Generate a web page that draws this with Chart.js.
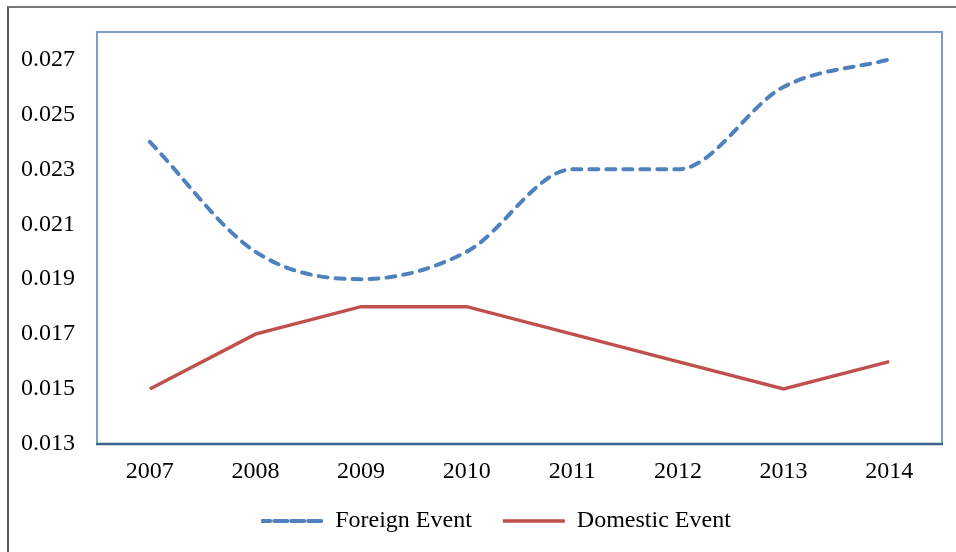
<!DOCTYPE html>
<html>
<head>
<meta charset="utf-8">
<script src="https://cdn.jsdelivr.net/npm/chart.js@4/dist/chart.umd.min.js"></script>
<style>
  html, body { margin: 0; padding: 0; background: #ffffff; }
  #wrap { position: relative; width: 956px; height: 552px; overflow: hidden; }
  #frame { position: absolute; left: 7px; top: 6px; width: 1000px; height: 1000px;
           border-top: 2px solid #7a7a7a; border-left: 2px solid #5a5a5a; box-sizing: border-box; }
  canvas { position: absolute; left: 0; top: 0; }
</style>
</head>
<body>
<div id="wrap">
  <div id="frame"></div>
  <canvas id="c" width="956" height="552"></canvas>
</div>
<script>
const categories = ['2007', '2008', '2009', '2010', '2011', '2012', '2013', '2014'];
const foreignEvent = [0.024, 0.020, 0.019, 0.020, 0.023, 0.023, 0.026, 0.027];
const domesticEvent = [0.015, 0.017, 0.018, 0.018, 0.017, 0.016, 0.015, 0.016];
const yTicks = [0.013, 0.015, 0.017, 0.019, 0.021, 0.023, 0.025, 0.027];

const plotFrame = {
  id: 'plotFrame',
  afterLayout(chart) {
    const lg = chart.legend;
    if (lg) {
      lg.left += 25; lg.right += 25;
      lg.top -= 9; lg.bottom -= 9;
    }
  },
  afterDatasetsDraw(chart) {
    const a = chart.chartArea, ctx = chart.ctx;
    ctx.save();
    ctx.strokeStyle = '#7f9cc4';
    ctx.lineWidth = 2;
    ctx.beginPath();
    ctx.moveTo(a.left, a.bottom);
    ctx.lineTo(a.left, a.top);
    ctx.lineTo(a.right, a.top);
    ctx.lineTo(a.right, a.bottom);
    ctx.stroke();
    ctx.strokeStyle = '#3d6391';
    ctx.lineWidth = 2.5;
    ctx.beginPath();
    ctx.moveTo(a.left - 1, a.bottom);
    ctx.lineTo(a.right + 1, a.bottom);
    ctx.stroke();
    ctx.restore();
  }
};

const serif = '"Liberation Serif", "Times New Roman", serif';

new Chart(document.getElementById('c'), {
  type: 'line',
  data: {
    labels: categories,
    datasets: [
      {
        label: 'Foreign Event',
        data: foreignEvent,
        borderColor: '#4f81bd',
        backgroundColor: '#4f81bd',
        borderWidth: 4,
        borderDash: [9, 8],
        borderCapStyle: 'round',
        cubicInterpolationMode: 'monotone',
        pointRadius: 0,
        fill: false
      },
      {
        label: 'Domestic Event',
        data: domesticEvent,
        borderColor: '#c0504d',
        backgroundColor: '#c0504d',
        borderWidth: 3.5,
        tension: 0,
        pointRadius: 0,
        fill: false
      }
    ]
  },
  options: {
    responsive: false,
    animation: false,
    devicePixelRatio: 1,
    layout: { padding: { left: 0, top: 32, right: 14, bottom: 0 } },
    plugins: {
      tooltip: { enabled: false },
      legend: {
        position: 'bottom',
        labels: {
          color: '#000000',
          font: { family: serif, size: 24 },
          boxWidth: 62,
          boxHeight: 0,
          padding: 31,
          generateLabels(chart) {
            const items = Chart.defaults.plugins.legend.labels.generateLabels(chart);
            items.forEach(it => { it.fillStyle = 'rgba(0,0,0,0)'; });
            return items;
          }
        }
      }
    },
    scales: {
      x: {
        offset: true,
        grid: { display: false, drawTicks: false },
        border: { display: false },
        ticks: { color: '#000000', font: { family: serif, size: 24 }, padding: 13 },
        afterFit(scale) { scale.height = 43; }
      },
      y: {
        min: 0.013,
        max: 0.028,
        grid: { display: false, drawTicks: false },
        border: { display: false },
        afterBuildTicks(scale) { scale.ticks = yTicks.map(v => ({ value: v })); },
        ticks: {
          color: '#000000',
          font: { family: serif, size: 24, lineHeight: 0.8 },
          padding: 22,
          callback(v) { return v.toFixed(3); }
        },
        afterFit(scale) { scale.width = 97; }
      }
    }
  },
  plugins: [plotFrame]
});
</script>
</body>
</html>
